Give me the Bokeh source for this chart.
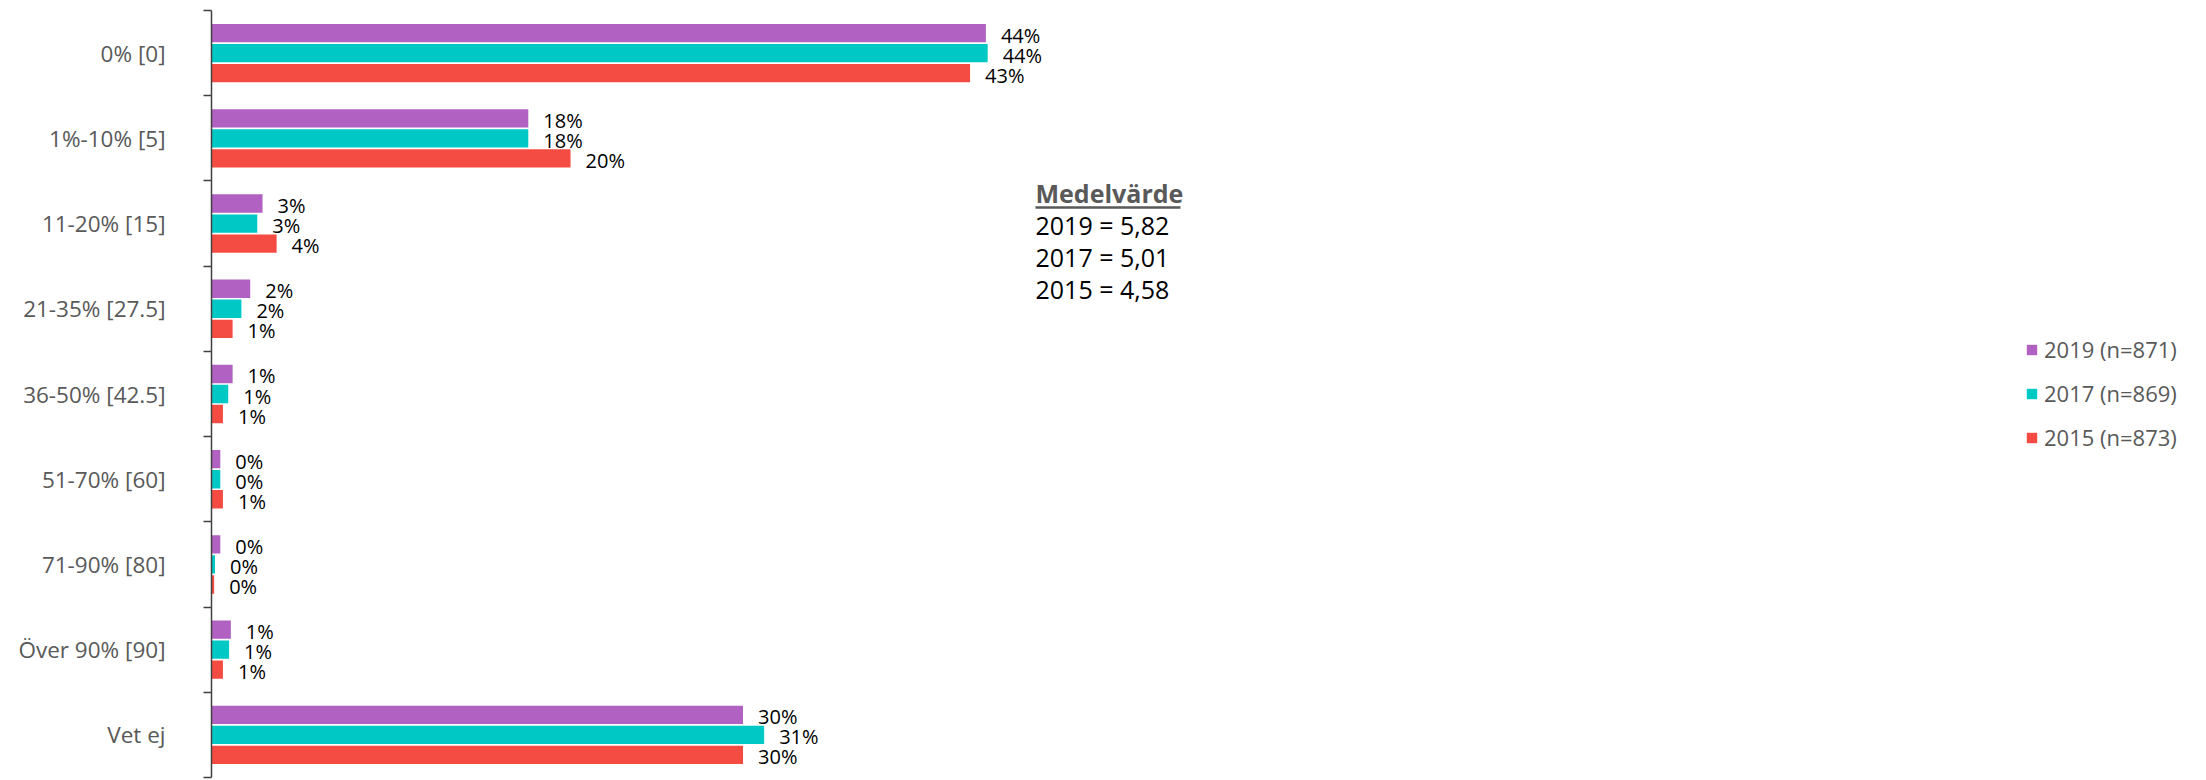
import numpy as np
from bokeh.plotting import figure
from bokeh.models import Range1d, FixedTicker, Legend, LegendItem, Label, ColumnDataSource
from bokeh.embed import file_html
from bokeh.resources import INLINE
from bokeh.core.properties import value

# ---------------- data ----------------
categories = ["0% [0]", "1%-10% [5]", "11-20% [15]", "21-35% [27.5]", "36-50% [42.5]",
              "51-70% [60]", "71-90% [80]", "Över 90% [90]", "Vet ej"]
series_names = ["2019 (n=871)", "2017 (n=869)", "2015 (n=873)"]
v2019 = [44.0, 18.0, 2.9, 2.2, 1.2, 0.5, 0.5, 1.1, 30.2]
v2017 = [44.1, 18.0, 2.6, 1.7, 0.95, 0.5, 0.2, 1.0, 31.4]
v2015 = [43.1, 20.4, 3.7, 1.2, 0.65, 0.65, 0.15, 0.65, 30.2]
mean_title = "Medelvärde"
mean_lines = ["2019 = 5,82", "2017 = 5,01", "2015 = 4,58"]

colors = ["#B061C1", "#00C8C5", "#F44C43"]
series_values = [v2019, v2017, v2015]
offsets = [-0.235, 0.0, 0.235]

# ---------------- layout ----------------
W, H = 2206, 780
LEFT, TOP, BOTTOM = 211, 10, 3
FRAME_W = W - LEFT
FRAME_H = H - TOP - BOTTOM
PX_PER_PCT = 17.6
n = len(categories)

def xd(px):
    return (px - LEFT) / PX_PER_PCT

def yd(py):
    return -0.5 + (py - TOP) / (FRAME_H / n)

p = figure(width=W, height=H, output_backend="svg", toolbar_location=None,
           x_range=Range1d(0, FRAME_W / PX_PER_PCT), y_range=Range1d(n - 0.5, -0.5),
           min_border_left=LEFT, min_border_right=0, min_border_top=TOP, min_border_bottom=BOTTOM,
           x_axis_location=None)
p.outline_line_color = None
p.grid.visible = False
p.background_fill_color = "white"
p.border_fill_color = "white"

idx = np.arange(n)
items = []
for name, vals, col, off in zip(series_names, series_values, colors, offsets):
    src = ColumnDataSource(dict(y=idx + off, right=vals,
                                lab=[f"{round(v)}%" for v in vals]))
    r = p.hbar(y="y", left=0, right="right", height=0.215, source=src,
               fill_color=col, line_color=None)
    p.text(x="right", y="y", text="lab", source=src, x_offset=15, y_offset=2,
           text_font=value("Open Sans"), text_font_size="20px", text_color="black",
           text_align="left", text_baseline="middle")
    items.append(LegendItem(label=name, renderers=[r]))

# y axis
ax = p.yaxis[0]
ax.ticker = FixedTicker(ticks=list(range(n)), minor_ticks=[i - 0.5 for i in range(n + 1)])
ax.major_label_overrides = {i: c for i, c in enumerate(categories)}
ax.major_tick_out = 0
ax.major_tick_in = 0
ax.minor_tick_out = 8
ax.minor_tick_in = 0
ax.minor_tick_line_color = "#404040"
ax.minor_tick_line_width = 1.5
ax.axis_line_color = "#404040"
ax.axis_line_width = 1.5
ax.major_label_standoff = 38
ax.major_label_text_font = "Open Sans"
ax.major_label_text_font_size = "22.5px"
ax.major_label_text_color = "#595959"

# legend
legend = Legend(items=items, location=(1814, 325), orientation="vertical",
                glyph_width=13, glyph_height=13, label_height=22, spacing=14,
                label_standoff=6, padding=0, margin=0,
                border_line_color=None, background_fill_alpha=0,
                label_text_font="Open Sans", label_text_font_size="22px",
                label_text_color="#595959")
p.add_layout(legend)

# Medelvärde annotation
p.add_layout(Label(x=xd(1035), y=yd(192), text=mean_title, text_font="Open Sans",
                   text_font_size="25px", text_font_style="bold", text_color="#595959",
                   text_align="left", text_baseline="alphabetic"))
p.segment(x0=[xd(1035)], x1=[xd(1180)], y0=[yd(207)], y1=[yd(207)],
          line_color="#595959", line_width=2.5)
for i, line in enumerate(mean_lines):
    p.add_layout(Label(x=xd(1035), y=yd(224 + 32 * i), text=line, text_font="Open Sans",
                       text_font_size="25px", text_color="black",
                       text_align="left", text_baseline="alphabetic"))

open("out.html", "w").write(file_html(p, INLINE))
